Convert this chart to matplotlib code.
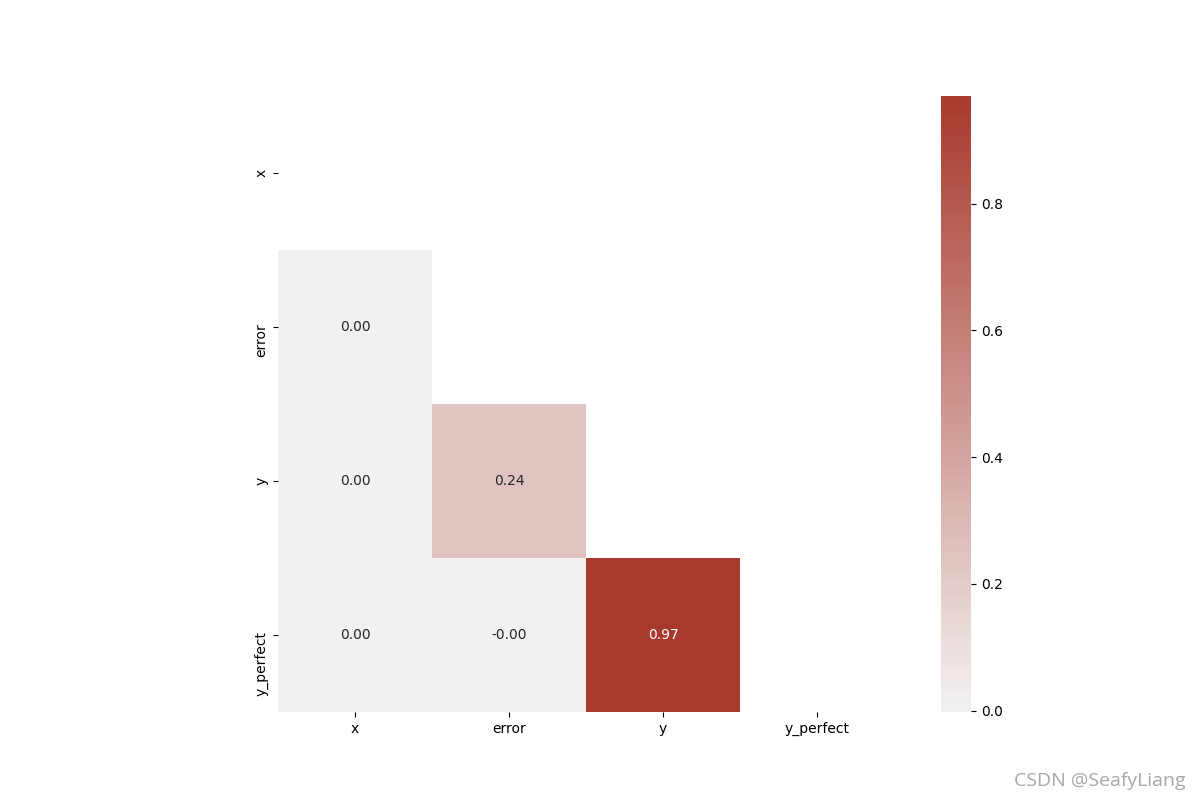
import numpy as np
import pandas as pd
import seaborn as sns
import matplotlib.pyplot as plt
from matplotlib.transforms import ScaledTranslation

# variables and lower-triangle correlations
labels = ['x', 'error', 'y', 'y_perfect']
corr_values = [
    [1.0, 0.001, 0.002, 0.001],
    [0.001, 1.0, 0.24, -0.002],
    [0.002, 0.24, 1.0, 0.97],
    [0.001, -0.002, 0.97, 1.0],
]

corr = pd.DataFrame(corr_values, index=labels, columns=labels)

# mask the upper triangle (diagonal included)
mask = np.triu(np.ones_like(corr, dtype=bool))

# diverging map: blue - light gray - brick red
cmap = sns.blend_palette(['#2f5f8f', '#f2f2f2', '#a8392d'], as_cmap=True)

fig, ax = plt.subplots(figsize=(12, 8), dpi=100)
sns.heatmap(corr, mask=mask, cmap=cmap, center=0, annot=True, fmt='.2f',
            square=True, ax=ax)

# y tick labels hang from just above the tick
shift = ScaledTranslation(0, 4 / 100, fig.dpi_scale_trans)
for lab in ax.get_yticklabels():
    lab.set_va('top')
    lab.set_transform(lab.get_transform() + shift)

fig.text(0.988, 0.013, 'CSDN @SeafyLiang', ha='right', va='bottom',
         fontsize=14, color='#a8a8a8', family='Open Sans')

plt.savefig('out.png')
